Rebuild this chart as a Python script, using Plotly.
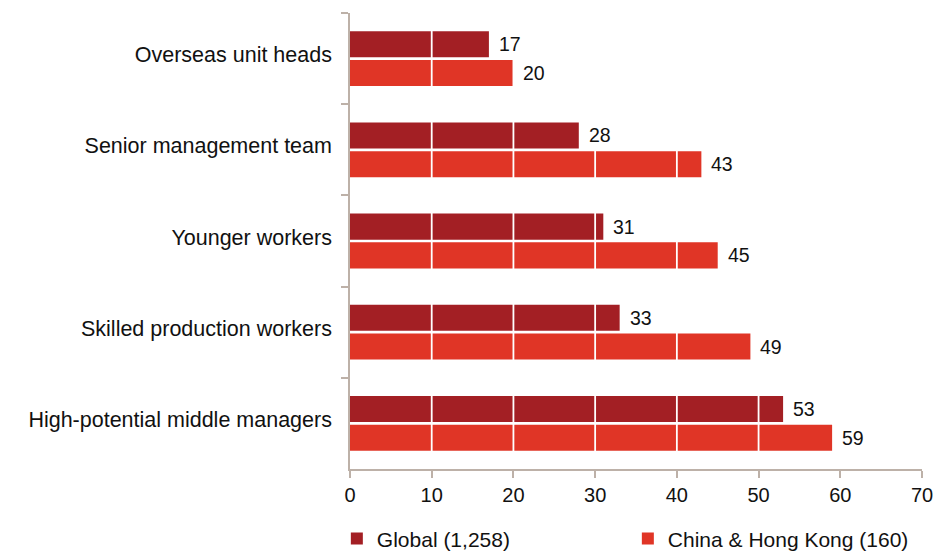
import plotly.graph_objects as go

# Survey categories, listed top to bottom
categories = [
    "Overseas unit heads",
    "Senior management team",
    "Younger workers",
    "Skilled production workers",
    "High-potential middle managers",
]
global_values = [17, 28, 31, 33, 53]
china_values = [20, 43, 45, 49, 59]
series_names = ["Global (1,258)", "China & Hong Kong (160)"]
x_ticks = [0, 10, 20, 30, 40, 50, 60, 70]

FONT = "Liberation Sans, Arial, Helvetica, sans-serif"
DARK_RED = "#A31F24"
BRIGHT_RED = "#E03526"
AXIS_COLOR = "#BDB1A8"
TEXT_COLOR = "#111111"

BARGAP = 0.37
BARGROUPGAP = 0.094
PLOT_H = 551 - 13 - 82
BAND_PX = PLOT_H / len(categories)
SLOT_PX = BAND_PX * (1 - BARGAP) / 2

fig = go.Figure()
series = [
    (series_names[0], global_values, DARK_RED, SLOT_PX / 2),
    (series_names[1], china_values, BRIGHT_RED, -SLOT_PX / 2),
]
for name, values, color, shift in series:
    fig.add_trace(
        go.Bar(
            name=name,
            y=categories,
            x=values,
            orientation="h",
            marker=dict(color=color, line=dict(width=0)),
        )
    )
    # value labels sit beside the end of each bar
    for cat, v in zip(categories, values):
        fig.add_annotation(
            x=v, y=cat, xref="x", yref="y",
            text=str(v), showarrow=False,
            xanchor="left", yanchor="middle",
            xshift=8, yshift=shift,
            font=dict(family=FONT, size=19.5, color=TEXT_COLOR),
        )

# white gridlines running across the bars
for t in x_ticks[1:-1]:
    fig.add_shape(
        type="line", xref="x", yref="y",
        x0=t, x1=t, y0=-0.45, y1=len(categories) - 0.55,
        line=dict(color="white", width=1.8),
        layer="above",
    )

fig.update_layout(
    width=947,
    height=551,
    margin=dict(l=350, r=25, t=13, b=82, autoexpand=False),
    paper_bgcolor="white",
    plot_bgcolor="white",
    barmode="group",
    bargap=BARGAP,
    bargroupgap=BARGROUPGAP,
    font=dict(family=FONT, color=TEXT_COLOR),
    showlegend=True,
    legend=dict(
        orientation="h",
        x=-0.023,
        xanchor="left",
        y=-0.108,
        yanchor="top",
        font=dict(family=FONT, size=21, color=TEXT_COLOR),
        entrywidth=246,
        traceorder="normal",
    ),
    xaxis=dict(
        range=[0, 70],
        tickvals=x_ticks,
        showgrid=False,
        zeroline=False,
        showline=True,
        linecolor=AXIS_COLOR,
        linewidth=1.5,
        ticks="outside",
        ticklen=7,
        tickcolor=AXIS_COLOR,
        tickwidth=1.5,
        tickfont=dict(family=FONT, size=20, color=TEXT_COLOR),
    ),
    yaxis=dict(
        type="category",
        categoryorder="array",
        categoryarray=categories,
        autorange="reversed",
        showgrid=False,
        zeroline=False,
        showline=True,
        linecolor=AXIS_COLOR,
        linewidth=1.5,
        ticks="outside",
        tickson="boundaries",
        ticklen=7,
        tickcolor=AXIS_COLOR,
        tickwidth=1.5,
        ticklabelstandoff=12,
        ticklabelshift=4,
        tickfont=dict(family=FONT, size=21.5, color=TEXT_COLOR),
    ),
)

fig.write_html("out.html")
